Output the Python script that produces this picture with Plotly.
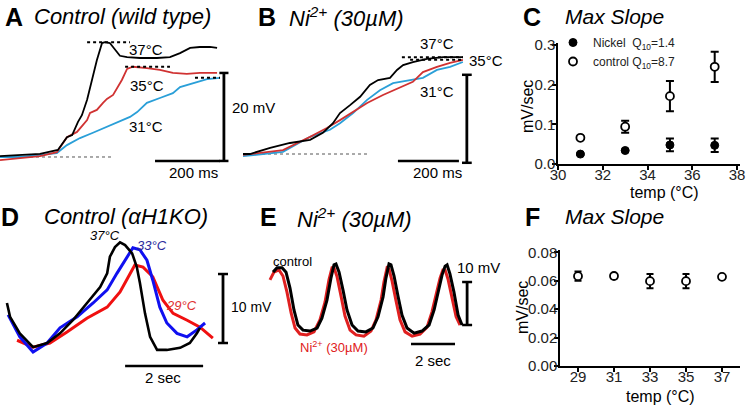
import plotly.graph_objects as go

W, H = 750, 405
FONT = "Arial, Liberation Sans, sans-serif"

# ---------------- Panel A : Control (wild type)  [ms, mV] ----------------
a_t_black = [0, 62, 123, 178, 206, 222, 240, 252, 268, 283, 298, 314, 323, 338, 354, 369, 391, 431, 483, 523, 554, 585, 615, 646, 668]
a_v_black = [0.2, 0.5, 0.7, 1.6, 4.5, 5.0, 8.0, 9.5, 13.0, 17.5, 22.0, 25.9, 26.1, 25.9, 24.3, 23.0, 22.7, 22.5, 22.5, 22.7, 23.6, 24.8, 25.0, 25.0, 24.8]
a_t_red = [0, 62, 123, 175, 191, 206, 237, 268, 277, 298, 317, 329, 348, 360, 375, 391, 409, 452, 492, 532, 575, 615, 668]
a_v_red = [-0.7, -0.2, 0.2, 1.1, 3.0, 4.5, 5.7, 8.4, 10.0, 10.7, 12.3, 13.2, 14.1, 15.7, 17.5, 20.0, 20.5, 20.2, 19.8, 19.1, 18.9, 19.1, 19.1]
a_t_blue = [0, 62, 123, 175, 206, 246, 286, 329, 369, 400, 422, 452, 492, 532, 554, 594, 637, 677]
a_v_blue = [0.0, 0.0, 0.5, 0.9, 2.7, 4.3, 5.5, 6.8, 8.0, 9.1, 10.2, 12.3, 13.4, 14.5, 15.9, 16.8, 17.7, 18.0]
a_labels = ["37°C", "35°C", "31°C"]

# ---------------- Panel B : Ni2+ (30 uM)  [ms, mV] ----------------
b_t_black = [0, 23, 89, 154, 220, 262, 295, 318, 351, 384, 416, 443, 482, 505, 525, 557, 603, 656, 721]
b_v_black = [0.0, 0.0, 1.4, 2.5, 3.2, 4.8, 7.0, 9.3, 11.1, 13.0, 15.7, 16.8, 17.3, 19.1, 20.2, 20.9, 21.6, 22.0, 22.0]
b_t_red = [0, 131, 220, 275, 318, 361, 407, 459, 515, 557, 590, 636, 679, 721]
b_v_red = [-0.2, 0.9, 3.9, 5.9, 7.7, 9.5, 11.6, 13.4, 15.2, 16.4, 18.6, 19.8, 20.7, 21.4]
b_t_blue = [0, 131, 220, 285, 318, 361, 407, 449, 492, 548, 590, 636, 679, 721]
b_v_blue = [-0.5, 0.5, 3.9, 5.5, 7.0, 9.3, 12.3, 14.5, 16.1, 16.8, 17.3, 19.1, 19.8, 20.9]

# ---------------- Panel C : Max slope vs temperature ----------------
c_temp = [31, 33, 35, 37]
c_nickel = [0.025, 0.034, 0.048, 0.047]
c_nickel_err = [0.002, 0.002, 0.016, 0.017]
c_control = [0.066, 0.094, 0.171, 0.245]
c_control_err = [0.003, 0.015, 0.038, 0.038]
c_xticks = [30, 32, 34, 36, 38]
c_yticks = [0.0, 0.1, 0.2, 0.3]
c_yticktext = ["0.0", "0.1", "0.2", "0.3"]

# ---------------- Panel D : Control (aH1KO)  [s, mV] ----------------
d_t_black = [0.05, 0.13, 0.38, 0.72, 1.08, 1.41, 1.74, 2.10, 2.44, 2.62, 2.69, 2.82, 2.95, 3.08, 3.26, 3.38, 3.46, 3.59, 3.72, 3.90, 4.15, 4.49, 4.74, 4.92, 5.00]
d_v_black = [5.8, 3.8, 1.4, -0.6, 0.0, 1.4, 3.3, 5.8, 8.1, 10.1, 12.5, 13.9, 14.6, 14.2, 13.0, 11.0, 8.7, 4.3, 0.9, -1.0, -1.0, -0.7, 0.0, 1.4, 2.2]
d_t_blue = [0.08, 0.38, 0.72, 1.08, 1.41, 1.85, 2.26, 2.62, 2.87, 3.13, 3.28, 3.46, 3.64, 3.79, 3.97, 4.15, 4.41, 4.67, 4.92, 5.13]
d_v_blue = [4.1, 0.9, -1.3, 0.0, 2.2, 3.8, 5.8, 7.7, 10.1, 12.5, 13.8, 13.5, 12.0, 9.1, 5.2, 2.9, 1.4, 0.9, 1.9, 2.9]
d_t_red = [0.31, 0.72, 1.15, 1.59, 2.10, 2.62, 2.95, 3.21, 3.33, 3.54, 3.79, 4.05, 4.31, 4.67, 5.00, 5.33]
d_v_red = [0.4, -0.6, 0.0, 1.6, 3.6, 5.2, 7.4, 10.1, 11.3, 11.0, 9.6, 6.2, 4.3, 3.3, 2.3, 0.7]

# ---------------- Panel E : Ni2+ (30 uM) oscillations  [s, mV] ----------------
e_t_ctrl = [0.23, 0.41, 0.64, 0.82, 1.00, 1.18, 1.36, 1.59, 1.91, 2.23, 2.45, 2.68, 2.86, 3.00, 3.09, 3.23, 3.41, 3.59, 3.82, 4.09, 4.45, 4.77, 5.00, 5.23, 5.36, 5.50, 5.59, 5.73, 5.91, 6.09, 6.32, 6.64, 7.00, 7.32, 7.55, 7.73, 7.91, 8.05, 8.14, 8.27, 8.45, 8.64, 8.82]
e_v_ctrl = [12.3, 13.3, 13.3, 12.3, 8.6, 3.5, 0.0, -1.2, -1.4, -0.7, 1.6, 5.8, 10.9, 14.0, 14.2, 12.3, 8.1, 3.5, 0.0, -1.4, -1.6, -0.7, 1.9, 6.5, 10.9, 14.2, 14.0, 11.4, 6.7, 2.3, -0.7, -1.9, -1.4, 0.0, 3.5, 7.7, 11.6, 13.7, 14.0, 11.9, 7.7, 2.3, 0.0]
e_t_ni = [0.09, 0.27, 0.50, 0.68, 0.86, 1.05, 1.23, 1.45, 1.77, 2.09, 2.36, 2.59, 2.77, 2.91, 3.00, 3.14, 3.32, 3.50, 3.73, 4.00, 4.36, 4.68, 4.91, 5.14, 5.27, 5.41, 5.50, 5.64, 5.82, 6.00, 6.23, 6.55, 6.91, 7.23, 7.45, 7.64, 7.82, 7.95, 8.05, 8.18, 8.36, 8.55, 8.73]
e_v_ni = [10.5, 12.3, 12.8, 11.4, 7.7, 2.8, -0.7, -2.1, -2.3, -1.6, 1.2, 5.3, 10.5, 13.3, 13.3, 11.2, 6.7, 2.1, -1.2, -2.3, -2.6, -1.4, 1.2, 5.8, 10.0, 13.3, 13.0, 10.2, 5.6, 1.2, -1.6, -2.6, -2.1, -0.5, 3.0, 7.2, 10.9, 12.8, 12.8, 10.7, 6.5, 1.9, 0.0]

# ---------------- Panel F : Max slope vs temperature ----------------
f_temp = [29, 31, 33, 35, 37]
f_slope = [0.0632, 0.0633, 0.0597, 0.0597, 0.0627]
f_err = [0.0033, 0.0015, 0.0050, 0.0050, 0.0010]
f_yticks = [0.0, 0.02, 0.04, 0.06, 0.08]
f_yticktext = ["0.00", "0.02", "0.04", "0.06", "0.08"]

# scale bars (value units)
A_BAR_MS, A_BAR_MV = 200, 20
B_BAR_MS, B_BAR_MV = 200, 20
D_BAR_S, D_BAR_MV = 2, 10
E_BAR_S, E_BAR_MV = 2, 10

BLACK = "#000000"
RED_A = "#d03232"
BLUE_A = "#2a9fd8"
BLUE_D = "#1010f0"
RED_D = "#f01010"
RED_E = "#e02020"


def dx(p0, p1):
    return [p0 / W, p1 / W]


def dy(top, bottom):
    return [1 - bottom / H, 1 - top / H]


fig = go.Figure()


def line(x, y, color, width, ax, dash=None):
    fig.add_trace(go.Scatter(x=x, y=y, mode="lines", showlegend=False, hoverinfo="skip",
                             line=dict(color=color, width=width, dash=dash),
                             xaxis="x" + ax, yaxis="y" + ax))


# Panel A traces (axis 1)
line([0, 348], [0, 0], "#555555", 1, "", "dot")
line(a_t_blue, a_v_blue, BLUE_A, 1.8, "")
line(a_t_red, a_v_red, RED_A, 1.8, "")
line(a_t_black, a_v_black, BLACK, 1.8, "")
line([268, 400], [max(a_v_black)] * 2, BLACK, 2, "", "dot")
line([385, 523], [max(a_v_red)] * 2, BLACK, 2, "", "dot")
line([600, 677], [a_v_blue[-1]] * 2, BLACK, 2, "", "dot")

# Panel B traces (axis 2)
line([23, 410], [0, 0], "#555555", 1, "2", "dot")
line(b_t_blue, b_v_blue, BLUE_A, 1.8, "2")
line(b_t_red, b_v_red, RED_A, 1.8, "2")
line(b_t_black, b_v_black, BLACK, 1.8, "2")
line([521, 721], [max(b_v_black)] * 2, BLACK, 2, "2", "dot")
line([548, 721], [max(b_v_red)] * 2, BLACK, 2, "2", "dot")

# Panel C (axis 3)
fig.add_trace(go.Scatter(x=c_temp, y=c_nickel, mode="markers", name="Nickel  Q<sub>10</sub>=1.4",
                         marker=dict(symbol="circle", size=8, color=BLACK, line=dict(color=BLACK, width=1)),
                         error_y=dict(type="data", array=c_nickel_err, thickness=2, width=4, color=BLACK),
                         xaxis="x3", yaxis="y3"))
fig.add_trace(go.Scatter(x=c_temp, y=c_control, mode="markers", name="control Q<sub>10</sub>=8.7",
                         marker=dict(symbol="circle", size=8, color="white", line=dict(color=BLACK, width=1.8)),
                         error_y=dict(type="data", array=c_control_err, thickness=2, width=4, color=BLACK),
                         xaxis="x3", yaxis="y3"))

# Panel D (axis 4)
line(d_t_red, d_v_red, RED_D, 3, "4")
line(d_t_blue, d_v_blue, BLUE_D, 3, "4")
line(d_t_black, d_v_black, BLACK, 2.6, "4")

# Panel E (axis 5)
line(e_t_ni, e_v_ni, RED_E, 3, "5")
line(e_t_ctrl, e_v_ctrl, BLACK, 3, "5")

# Panel F (axis 6)
fig.add_trace(go.Scatter(x=f_temp, y=f_slope, mode="markers", showlegend=False,
                         marker=dict(symbol="circle", size=8, color="white", line=dict(color=BLACK, width=1.8)),
                         error_y=dict(type="data", array=f_err, thickness=2, width=3.5, color=BLACK),
                         xaxis="x6", yaxis="y6"))

# ---------------- axes ----------------
hidden = dict(visible=False, showgrid=False, zeroline=False, fixedrange=True)
layout_axes = dict(
    xaxis=dict(domain=dx(0, 240), range=[0, 738.5], **hidden),
    yaxis=dict(domain=dy(30, 180), range=[-5.23, 28.86], **hidden),
    xaxis2=dict(domain=dx(243, 500), range=[0, 842.7], **hidden),
    yaxis2=dict(domain=dy(30, 180), range=[-5.91, 28.18], **hidden),
    xaxis4=dict(domain=dx(0, 240), range=[-0.128, 6.026], **hidden),
    yaxis4=dict(domain=dy(230, 390), range=[-6.81, 16.38], **hidden),
    xaxis5=dict(domain=dx(260, 500), range=[-0.364, 10.545], **hidden),
    yaxis5=dict(domain=dy(240, 380), range=[-12.79, 19.77], **hidden),
)

vis = dict(showline=True, linecolor=BLACK, linewidth=1.5, ticks="outside", ticklen=4, tickwidth=1.5,
           tickcolor=BLACK, showgrid=False, zeroline=False, fixedrange=True, automargin=False,
           tickfont=dict(family=FONT, size=15, color="#222222"))
layout_axes.update(
    xaxis3=dict(domain=dx(558, 740), range=[30, 38.13], tickvals=c_xticks, anchor="y3",
                ticklabelstandoff=-8, **vis),
    yaxis3=dict(domain=dy(43, 164), range=[0, 0.305], tickvals=c_yticks, ticktext=c_yticktext, anchor="x3",
                ticklabelstandoff=-6, **vis),
    xaxis6=dict(domain=dx(560, 740), range=[28, 38], tickvals=f_temp, anchor="y6",
                ticklabelstandoff=-8, **vis),
    yaxis6=dict(domain=dy(250, 366), range=[0, 0.0816], tickvals=f_yticks, ticktext=f_yticktext, anchor="x6",
                ticklabelstandoff=-6, **vis),
)

# ---------------- scale bars (shapes in data coords) ----------------
shapes = []


def seg(ax, x0, y0, x1, y1, w=2.5):
    shapes.append(dict(type="line", xref="x" + ax, yref="y" + ax, x0=x0, y0=y0, x1=x1, y1=y1,
                       line=dict(color=BLACK, width=w)))


def scalebars(ax, hx0, hy, hlen, vx, vy0, vlen, cap):
    seg(ax, hx0, hy, hx0 + hlen, hy)
    seg(ax, vx, vy0, vx, vy0 + vlen, 2.8)
    seg(ax, vx - cap, vy0, vx + cap, vy0)
    seg(ax, vx - cap, vy0 + vlen, vx + cap, vy0 + vlen)


scalebars("", 477, -0.9, A_BAR_MS, 689, -0.9, A_BAR_MV, 14)
scalebars("2", 508, -1.6, B_BAR_MS, 734, -2.0, B_BAR_MV, 16)
scalebars("4", 3.08, -3.33, D_BAR_S, 5.59, 0, D_BAR_MV, 0.128)
scalebars("5", 6.5, -4.4, E_BAR_S, 9.05, 0, E_BAR_MV, 0.227)

# ---------------- text ----------------
annotations = []


def ann(text, x, y, size, color=BLACK, xanchor="center", angle=0):
    annotations.append(dict(text=text, x=x / W, y=1 - y / H, xref="paper", yref="paper",
                            xanchor=xanchor, yanchor="middle", showarrow=False, textangle=angle,
                            font=dict(family=FONT, size=size, color=color)))


# panel letters and titles
ann("<b>A</b>", 14, 17, 25)
ann("<i>Control (wild type)</i>", 32, 17, 22, xanchor="left")
ann("<b>B</b>", 267, 17, 25)
ann("<i>Ni<sup>2+</sup> (30µM)</i>", 287, 17, 22, xanchor="left")
ann("<b>C</b>", 532, 17, 25)
ann("<i>Max Slope</i>", 563, 16, 21, xanchor="left")
ann("<b>D</b>", 10, 217, 25)
ann("<i>Control (αH1KO)</i>", 42, 217, 22, xanchor="left")
ann("<b>E</b>", 268, 217, 25)
ann("<i>Ni<sup>2+</sup> (30µM)</i>", 295, 218, 22, xanchor="left")
ann("<b>F</b>", 532, 217, 25)
ann("<i>Max Slope</i>", 563, 217, 21, xanchor="left")

# panel A labels
ann(a_labels[0], 146, 49, 15)
ann(a_labels[1], 147, 85, 15)
ann(a_labels[2], 146, 126, 15)
ann("20 mV", 230, 108, 15, xanchor="left")
ann("200 ms", 193, 172, 15)
# panel B labels
ann("37°C", 437, 44, 15)
ann("35°C", 467, 61, 15, xanchor="left")
ann("31°C", 437, 91, 15)
ann("200 ms", 437, 172, 15)
# panel C axis titles
ann("mV/sec", 528, 107, 16, angle=-90)
ann("temp (°C)", 664, 192, 16)
# panel D labels
ann("<i>37°C</i>", 105, 235, 13)
ann("<i>33°C</i>", 152, 245, 13, color="#2a2a9c")
ann("<i>29°C</i>", 181, 305, 13, color="#e03030")
ann("10 mV", 229, 307, 14, xanchor="left")
ann("2 sec", 163, 377, 15)
# panel E labels
ann("control", 292, 261, 13)
ann("Ni<sup>2+</sup> (30µM)", 334, 347, 13, color="#e02020")
ann("10 mV", 455, 267, 15, xanchor="left")
ann("2 sec", 433, 360, 15)
# panel F axis titles
ann("mV/sec", 522, 308, 16, angle=-90)
ann("temp (°C)", 660, 396, 16)

fig.update_layout(
    width=W, height=H, margin=dict(l=0, r=0, t=0, b=0, pad=0, autoexpand=False),
    paper_bgcolor="white", plot_bgcolor="rgba(0,0,0,0)",
    font=dict(family=FONT, color=BLACK),
    showlegend=True,
    legend=dict(x=553 / W, y=1 - 28 / H, xanchor="left", yanchor="top", bgcolor="rgba(0,0,0,0)",
                font=dict(family=FONT, size=12, color="#222222"), itemwidth=30, tracegroupgap=0),
    shapes=shapes, annotations=annotations,
    **layout_axes,
)

fig.write_html("out.html", config={"displayModeBar": False},
               post_script="document.body.style.margin='0';")
